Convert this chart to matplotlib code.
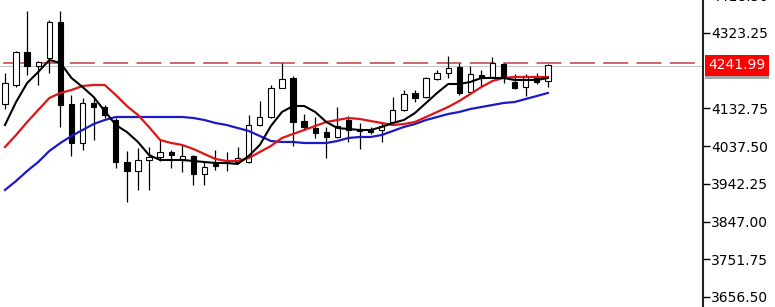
import matplotlib
matplotlib.use('Agg')
import matplotlib.pyplot as plt
import matplotlib.patheffects as pe
import numpy as np

# OHLC candles (oldest -> newest)
opens = [4143.9, 4191.9, 4275.3, 4239.9, 4260.1, 4351.0, 4143.9, 4045.3, 4146.4, 4136.3,
         4103.4, 3997.3, 3974.6, 4002.4, 4010.0, 4022.6, 4004.9, 4012.5, 3967.0, 3992.3,
         3997.3, 3997.3, 3997.3, 4090.8, 4111.0, 4184.3, 4209.6, 4100.9, 4083.2, 4073.1,
         4060.5, 4103.4, 4080.7, 4078.2, 4078.2, 4098.4, 4128.7, 4171.7, 4161.6, 4207.0,
         4222.2, 4237.4, 4174.2, 4217.1, 4212.1, 4244.9, 4199.5, 4186.8, 4212.1, 4202.0]
highs = [4222.2, 4277.8, 4378.8, 4252.5, 4356.1, 4378.8, 4166.6, 4159.0, 4161.6, 4141.3,
         4108.5, 4025.1, 4032.7, 4035.2, 4055.4, 4027.7, 4040.3, 4015.0, 3999.9, 4027.7,
         4022.6, 4035.2, 4116.1, 4151.5, 4191.9, 4247.5, 4214.6, 4118.6, 4111.0, 4085.8,
         4136.3, 4113.6, 4095.9, 4085.8, 4098.4, 4161.6, 4179.2, 4179.2, 4212.1, 4229.8,
         4265.1, 4247.5, 4239.9, 4229.8, 4262.6, 4247.5, 4219.7, 4219.7, 4222.2, 4244.9]
lows = [4131.2, 4186.8, 4217.1, 4191.9, 4222.2, 4085.8, 4012.5, 4027.7, 4052.9, 4108.5,
        3982.2, 3896.3, 3926.6, 3926.6, 3999.9, 3982.2, 3972.1, 3939.2, 3939.2, 3977.1,
        3974.6, 3994.8, 3994.8, 4088.3, 4108.5, 4184.3, 4037.8, 4078.2, 4058.0, 4007.4,
        4058.0, 4047.9, 4030.2, 4068.1, 4047.9, 4095.9, 4126.2, 4148.9, 4159.0, 4204.5,
        4209.6, 4166.6, 4171.7, 4186.8, 4209.6, 4196.9, 4181.8, 4164.1, 4194.4, 4186.8]
closes = [4196.9, 4275.3, 4239.9, 4250.0, 4351.0, 4141.3, 4045.3, 4146.4, 4136.3, 4116.1,
          3997.3, 3974.6, 4002.4, 4010.0, 4022.6, 4015.0, 4012.5, 3967.0, 3984.7, 3987.2,
          3994.8, 4007.4, 4090.8, 4111.0, 4184.3, 4207.0, 4098.4, 4085.8, 4070.6, 4060.5,
          4088.3, 4078.2, 4075.7, 4073.1, 4088.3, 4128.7, 4169.1, 4159.0, 4209.6, 4222.2,
          4234.8, 4171.7, 4219.7, 4209.6, 4247.5, 4212.1, 4184.3, 4214.6, 4199.5, 4241.99]

# moving averages
ma_fast = [4090.8, 4148.9, 4196.9, 4224.7, 4255.0, 4247.5, 4209.6, 4186.8, 4161.6, 4126.2,
           4090.8, 4073.1, 4047.9, 4015.0, 4002.4, 4002.4, 4002.4, 3999.9, 3997.3, 3994.8,
           3994.8, 3992.3, 4012.5, 4040.3, 4088.3, 4123.7, 4138.8, 4138.8, 4123.7, 4098.4,
           4083.2, 4080.7, 4078.2, 4078.2, 4085.8, 4095.9, 4103.4, 4121.1, 4146.4, 4171.7,
           4194.4, 4194.4, 4199.5, 4209.6, 4209.6, 4209.6, 4204.5, 4204.5, 4204.5, 4209.6]
ma_mid = [4035.2, 4065.5, 4098.4, 4128.7, 4159.0, 4171.7, 4179.2, 4189.3, 4191.9, 4191.9,
          4166.6, 4138.8, 4116.1, 4085.8, 4052.9, 4045.3, 4040.3, 4030.2, 4017.5, 4004.9,
          3999.9, 3999.9, 4007.4, 4022.6, 4037.8, 4058.0, 4068.1, 4078.2, 4088.3, 4098.4,
          4103.4, 4108.5, 4106.0, 4100.9, 4095.9, 4090.8, 4093.3, 4098.4, 4111.0, 4123.7,
          4136.3, 4151.5, 4169.1, 4186.8, 4202.0, 4209.6, 4212.1, 4212.1, 4212.1, 4212.1]
ma_slow = [3926.6, 3949.3, 3974.6, 3997.3, 4025.1, 4045.3, 4063.0, 4078.2, 4093.3, 4103.4,
           4111.0, 4111.0, 4111.0, 4111.0, 4111.0, 4111.0, 4111.0, 4108.5, 4103.4, 4095.9,
           4090.8, 4083.2, 4075.7, 4063.0, 4050.4, 4047.9, 4047.9, 4045.3, 4045.3, 4045.3,
           4050.4, 4058.0, 4060.5, 4060.5, 4065.5, 4075.7, 4085.8, 4093.3, 4103.4, 4111.0,
           4118.6, 4123.7, 4131.2, 4136.3, 4141.3, 4146.4, 4148.9, 4156.5, 4164.1, 4171.7]

level = 4246.5        # dashed horizontal level
bid_line = 4239.0     # thin grey price line
last_price = 4241.99
yticks = [4418.50, 4323.25, 4132.75, 4037.50, 3942.25, 3847.00, 3751.75, 3656.50]

matplotlib.rcParams['lines.scale_dashes'] = False

fig = plt.figure(figsize=(7.75, 3.07), dpi=100)
fig.patch.set_facecolor('white')
# axes runs a little past the top edge so the top tick label is cut like the original
ax = fig.add_axes([0, 0, 703 / 775, 319 / 307])

x = np.arange(len(opens))
o = np.array(opens); c = np.array(closes)
up = c >= o
bottoms = np.minimum(o, c)
heights = np.abs(c - o)

ax.vlines(x, lows, highs, color='black', lw=0.9, zorder=2)
ax.bar(x, heights, bottom=bottoms, width=0.48,
       color=np.where(up, 'white', 'black'), edgecolor='black', lw=0.8, zorder=3)

ax.plot(x, ma_slow, color='#1a1ac8', lw=1.6, zorder=4)
ax.plot(x, ma_mid, color='#e01414', lw=1.6, zorder=4)
ax.plot(x, ma_fast, color='black', lw=1.5, zorder=5)

ax.axhline(bid_line, color='#c8c8c8', lw=0.8, zorder=1)
ax.axhline(level, color='#cc5c5c', lw=1.3, linestyle=(21.7, (18, 6)), zorder=1)

ax.set_xlim(-0.45, 63)
ax.set_ylim(3631.0, 4436.9)

for s in ['left', 'top', 'bottom']:
    ax.spines[s].set_visible(False)
ax.spines['right'].set_color('#222222')
ax.spines['right'].set_linewidth(1.5)
ax.set_xticks([])
ax.yaxis.tick_right()
ax.set_yticks(yticks)
ax.set_yticklabels(['%.2f' % t for t in yticks])
ax.tick_params(axis='y', direction='out', length=5, width=1, pad=1, labelsize=10, colors='black')

# last price tag on the scale, with a grey drop shadow
tag = ax.annotate('%.2f' % last_price, xy=(1, last_price), xycoords=('axes fraction', 'data'),
                  xytext=(4, 0), textcoords='offset points', va='center', ha='left',
                  fontsize=10, color='white', annotation_clip=False,
                  bbox=dict(boxstyle='square,pad=0.25', fc='#ff0000', ec='none'), zorder=7)
tag.get_bbox_patch().set_path_effects([
    pe.SimplePatchShadow(offset=(0, -2.5), shadow_rgbFace='#a8a8a8', alpha=1),
    pe.Normal()])

fig.savefig('out.png', dpi=100)
